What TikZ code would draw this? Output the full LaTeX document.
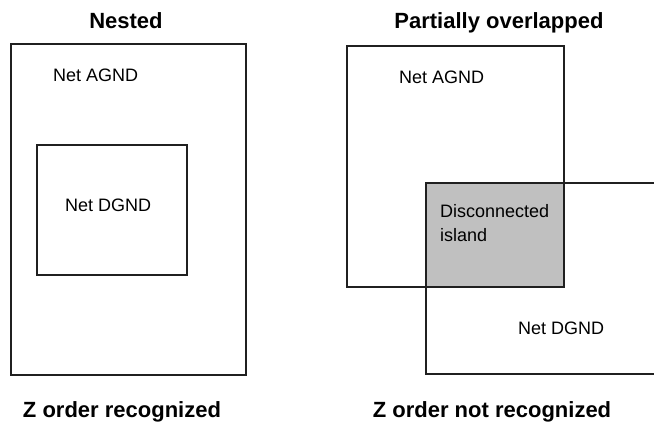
\documentclass[tikz,border=0pt]{standalone}
\usepackage{fontspec}
\setmainfont{Liberation Sans}
\definecolor{islandgray}{HTML}{C0C0C0}
\definecolor{edgecol}{HTML}{202020}
\begin{document}
\begin{tikzpicture}[x=1pt,y=-1pt,
  box/.style={draw=edgecol,line width=1.5pt},
  lbl/.style={inner sep=0pt,anchor=base west,font=\fontsize{18}{24}\selectfont},
  ttl/.style={inner sep=0pt,anchor=base,font=\fontsize{22}{26}\selectfont\bfseries}]
\useasboundingbox (0,0) rectangle (654,423);
% Nested
\node[ttl] (tnest) at (126,28) {Nested};
\node[box,minimum width=235pt,minimum height=331pt,anchor=north west,inner sep=0pt] (agndL) at (10,43) {};
\node[box,minimum width=150pt,minimum height=130pt,anchor=north west,inner sep=0pt] (dgndL) at (36,144) {};
\node[lbl] (agndLt) at (53,81) {Net AGND};
\node[lbl] (dgndLt) at (65,211) {Net DGND};
\node[ttl] (zrec) at (122,417) {Z order recognized};
% Partially overlapped
\node[ttl] (tpart) at (499,28) {Partially overlapped};
\fill[islandgray] (426,183) rectangle (563,286);
\node[box,minimum width=217pt,minimum height=241pt,anchor=north west,inner sep=0pt] (agndR) at (346,45) {};
\coordinate (dTR) at (655,183);
\coordinate (dTL) at (426,183);
\coordinate (dBL) at (426,374);
\coordinate (dBR) at (655,374);
\draw[box] (dTR) -- (dTL) -- (dBL) -- (dBR);
\node[lbl] (agndRt) at (399,83) {Net AGND};
\node[lbl,align=left] (island) at (440,241) {Disconnected\\island};
\node[lbl] (dgndRt) at (518,334) {Net DGND};
\node[ttl] (znot) at (492,417) {Z order not recognized};
\end{tikzpicture}
\end{document}
